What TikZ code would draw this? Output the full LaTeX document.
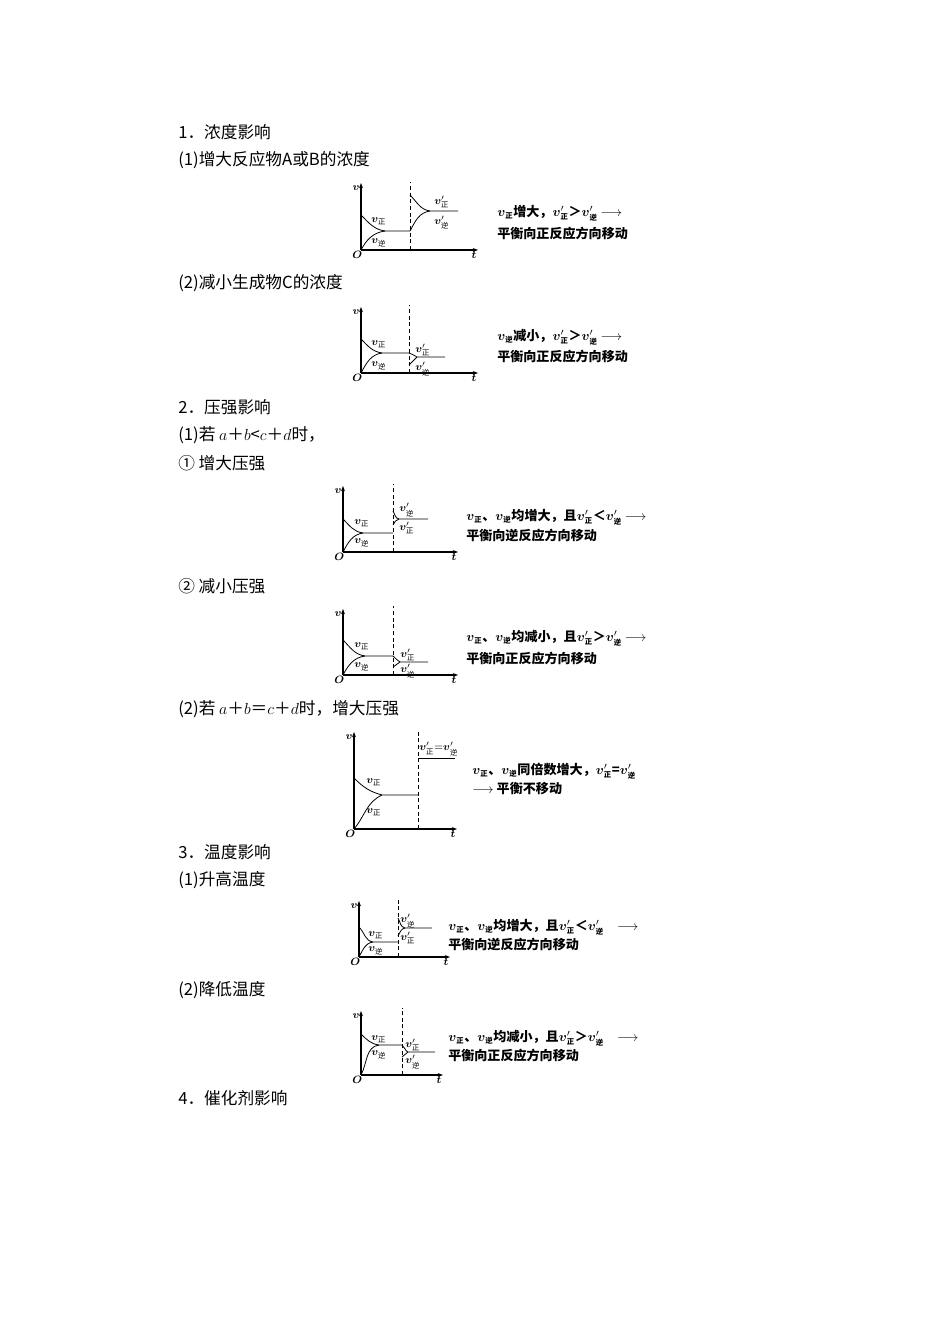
\documentclass[tikz,border=0pt]{standalone}
\usepackage{fontspec}
\usepackage{amsmath}
\newfontfamily\cjk{Noto Sans CJK SC}
\usetikzlibrary{arrows.meta}
\newcommand\sz[1]{\mbox{\cjk\fontsize{5.5}{5.5}\selectfont #1}}
\newcommand\vZ{$\boldsymbol{v}_{\sz{正}}$}
\newcommand\vN{$\boldsymbol{v}_{\sz{逆}}$}
\newcommand\vpZ{$\boldsymbol{v}'_{\sz{正}}$}
\newcommand\vpN{$\boldsymbol{v}'_{\sz{逆}}$}
\newcommand\myaxes[7]{%
  \coordinate (#7c) at (#1,#2);
  \coordinate (#7top) at (#1,#3);
  \coordinate (#7r) at (#4,#2);
  \coordinate (#7d0) at (#5,#2);
  \coordinate (#7d1) at (#5,#6);
  \draw[ax] (#7c) -- (#7top);
  \draw[ax] (#7c) -- (#7r);
  \draw[dsh] (#7d0) -- (#7d1);
  \node[gl,anchor=east] (#7v) at ([xshift=-1,yshift=-4]#7top) {$\boldsymbol{v}$};
  \node[gl,anchor=north east] (#7O) at ([yshift=-1,xshift=1]#7c) {$\boldsymbol{O}$};
  \node[gl,anchor=north] (#7t) at ([yshift=-1,xshift=-3]#7r) {$\boldsymbol{t}$};
}
\tikzset{
  ax/.style={line width=0.8pt,-{Stealth[length=4pt,width=3pt]}},
  dsh/.style={line width=0.5pt,dash pattern=on 3pt off 2pt},
  cv/.style={line width=0.6pt},
  gl/.style={inner sep=0pt,font=\fontsize{8.5}{8.5}\selectfont},
  lb/.style={inner sep=0pt,font=\fontsize{8.5}{8.5}\selectfont,anchor=west},
  body/.style={inner sep=0pt,anchor=west,font=\cjk\fontsize{12.5}{13}\selectfont},
  rt/.style={inner sep=0pt,anchor=west,font=\cjk\bfseries\fontsize{9.8}{10}\selectfont},
  dn/.style={out=-45,in=172},
  up/.style={out=62,in=188},
}
\begin{document}
\begin{tikzpicture}[x=0.75pt,y=-0.75pt]
\useasboundingbox (0,0) rectangle (950,1344);
% body text
\node[body] (s1) at (178,132) {1．浓度影响};
\node[body] (s11) at (178,160) {(1)增大反应物A或B的浓度};
\node[body] (s12) at (178,283) {(2)减小生成物C的浓度};
\node[body] (s2) at (178,407) {2．压强影响};
\node[body] (s21) at (178,435) {(1)若 $a$＋$b$<$c$＋$d$时，};
\node[body] (s2a) at (178,463) {① 增大压强};
\node[body] (s2b) at (178,586) {② 减小压强};
\node[body] (s22) at (178,709) {(2)若 $a$＋$b$＝$c$＋$d$时，增大压强};
\node[body] (s3) at (178,852) {3．温度影响};
\node[body] (s31) at (178,880) {(1)升高温度};
\node[body] (s32) at (178,990) {(2)降低温度};
\node[body] (s4) at (178,1098) {4．催化剂影响};

% Graph 1
\myaxes{361}{250}{183}{478}{410}{182}{g1}
\coordinate (g1a) at (361,215); \coordinate (g1m) at (385,231); \coordinate (g1e) at (410,231);
\draw[cv] (g1a) to[dn] (g1m) -- (g1e);
\draw[cv] (g1c) to[up] (g1m);
\coordinate (g1b) at (410,195); \coordinate (g1n) at (430,211); \coordinate (g1f) at (458,211);
\draw[cv] (g1b) to[dn] (g1n) -- (g1f);
\draw[cv] (g1e) to[up] (g1n);
\node[lb] at (371,221) {\vZ};
\node[lb] at (371,243) {\vN};
\node[lb] at (434,202) {\vpZ};
\node[lb] at (434,223) {\vpN};
\node[rt] at (497,213) {\vZ 增大，\vpZ ＞\vpN\ $\longrightarrow$};
\node[rt] at (497,233) {平衡向正反应方向移动};

% Graph 2
\myaxes{361}{373}{307}{478}{409}{305}{g2}
\coordinate (g2a) at (361,339); \coordinate (g2m) at (382,353); \coordinate (g2e) at (409,353);
\draw[cv] (g2a) to[dn] (g2m) -- (g2e);
\draw[cv] (g2c) to[up] (g2m);
\coordinate (g2b) at (409,365); \coordinate (g2n) at (417,357); \coordinate (g2f) at (445,357);
\draw[cv] (g2e) to[out=-20,in=150] (g2n) -- (g2f);
\draw[cv] (g2b) -- (g2n);
\node[lb] at (371,344) {\vZ};
\node[lb] at (371,366) {\vN};
\node[lb] at (415,350) {\vpZ};
\node[lb] at (415,369) {\vpN};
\node[rt] at (497,337) {\vN 减小，\vpZ ＞\vpN\ $\longrightarrow$};
\node[rt] at (497,356) {平衡向正反应方向移动};

% Graph 3
\myaxes{343}{552}{486}{458}{393}{484}{g3}
\coordinate (g3a) at (343,519); \coordinate (g3m) at (363,533); \coordinate (g3e) at (393,533);
\draw[cv] (g3a) to[dn] (g3m) -- (g3e);
\draw[cv] (g3c) to[up] (g3m);
\coordinate (g3b) at (393,511); \coordinate (g3n) at (399,519); \coordinate (g3f) at (428,519);
\coordinate (g3l) at (393,525);
\draw[cv] (g3b) to[out=-60,in=170] (g3n) -- (g3f);
\draw[cv] (g3l) to[out=60,in=190] (g3n);
\node[lb] at (354,523) {\vZ};
\node[lb] at (354,543) {\vN};
\node[lb] at (399,510) {\vpN};
\node[lb] at (399,528) {\vpZ};
\node[rt] at (466,517) {\vZ、\vN 均增大，且\vpZ ＜\vpN\ $\longrightarrow$};
\node[rt] at (466,535) {平衡向逆反应方向移动};

% Graph 4
\myaxes{343}{675}{609}{458}{393}{606}{g4}
\coordinate (g4a) at (343,640); \coordinate (g4m) at (365,656); \coordinate (g4e) at (393,656);
\draw[cv] (g4a) to[dn] (g4m) -- (g4e);
\draw[cv] (g4c) to[up] (g4m);
\coordinate (g4b) at (393,667); \coordinate (g4n) at (400,662); \coordinate (g4f) at (428,662);
\draw[cv] (g4e) to[out=-30,in=160] (g4n) -- (g4f);
\draw[cv] (g4b) -- (g4n);
\node[lb] at (354,646) {\vZ};
\node[lb] at (354,667) {\vN};
\node[lb] at (400,655) {\vpZ};
\node[lb] at (400,671) {\vpN};
\node[rt] at (466,638) {\vZ、\vN 均减小，且\vpZ ＞\vpN\ $\longrightarrow$};
\node[rt] at (466,658) {平衡向正反应方向移动};

% Graph 5
\myaxes{354}{829}{732}{457}{418}{731}{g5}
\coordinate (g5a) at (354,778); \coordinate (g5m) at (382,795); \coordinate (g5e) at (418,795);
\draw[cv] (g5a) to[out=-45,in=165] (g5m) -- (g5e);
\draw[cv] (g5c) to[out=50,in=205] (g5m);
\coordinate (g5b) at (418,758); \coordinate (g5f) at (455,758);
\draw[cv] (g5b) -- (g5f);
\node[lb] at (366,782) {\vZ};
\node[lb] at (366,812) {\vZ};
\node[lb] at (419,749) {\vpZ=\vpN};
\node[rt] at (472,771) {\vZ、\vN 同倍数增大，\vpZ=\vpN};
\node[rt] at (472,789) {$\longrightarrow$ 平衡不移动};

% Graph 6
\myaxes{359}{957}{901}{450}{398}{899}{g6}
\coordinate (g6a) at (359,927); \coordinate (g6m) at (373,942); \coordinate (g6e) at (398,942);
\draw[cv] (g6a) to[dn] (g6m) -- (g6e);
\draw[cv] (g6c) to[up] (g6m);
\coordinate (g6b) at (398,918); \coordinate (g6n) at (405,928); \coordinate (g6f) at (432,928);
\coordinate (g6l) at (398,936);
\draw[cv] (g6b) to[out=-60,in=170] (g6n) -- (g6f);
\draw[cv] (g6l) to[out=60,in=190] (g6n);
\node[lb] at (368,935) {\vZ};
\node[lb] at (368,951) {\vN};
\node[lb] at (400,921) {\vpN};
\node[lb] at (400,938) {\vpZ};
\node[rt] at (448,927) {\vZ、\vN 均增大，且\vpZ ＜\vpN\quad$\longrightarrow$};
\node[rt] at (448,944) {平衡向逆反应方向移动};

% Graph 7
\myaxes{361}{1075}{1011}{443}{402}{1008}{g7}
\coordinate (g7a) at (361,1034); \coordinate (g7m) at (379,1045); \coordinate (g7e) at (402,1045);
\draw[cv] (g7a) to[dn] (g7m) -- (g7e);
\draw[cv] (g7c) to[up] (g7m);
\coordinate (g7b) at (402,1057); \coordinate (g7n) at (408,1052); \coordinate (g7f) at (435,1052);
\draw[cv] (g7e) to[out=-30,in=160] (g7n) -- (g7f);
\draw[cv] (g7b) -- (g7n);
\node[lb] at (371,1039) {\vZ};
\node[lb] at (371,1055) {\vN};
\node[lb] at (405,1045) {\vpZ};
\node[lb] at (405,1062) {\vpN};
\node[rt] at (448,1038) {\vZ、\vN 均减小，且\vpZ ＞\vpN\quad$\longrightarrow$};
\node[rt] at (448,1055) {平衡向正反应方向移动};
\end{tikzpicture}
\end{document}
